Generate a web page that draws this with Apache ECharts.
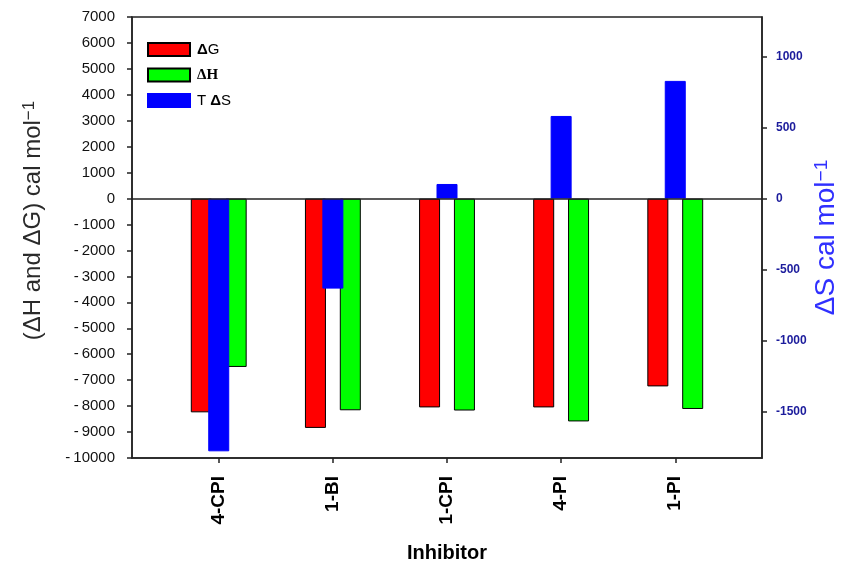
<!DOCTYPE html>
<html>
<head>
<meta charset="utf-8">
<script src="https://cdn.jsdelivr.net/npm/echarts@6/dist/echarts.min.js"></script>
<style>
  html, body { margin: 0; padding: 0; background: #fff; }
  #chart { width: 844px; height: 564px; }
</style>
</head>
<body>
<div id="chart"></div>
<script>
// Thermodynamic parameters of binding for each inhibitor
const inhibitors = ['4-CPI', '1-BI', '1-CPI', '4-PI', '1-PI'];
const deltaG = [-8240, -8840, -8050, -8050, -7240];   // cal/mol, left axis
const deltaH = [-6490, -8160, -8170, -8590, -8110];   // cal/mol, left axis
const tDeltaS = [-1780, -634, 103, 582, 829];         // right axis
const rightTicks = [-1500, -1000, -500, 0, 500, 1000];
const xPositions = inhibitors.map((_, i) => i);

const FONT = '"Liberation Sans", Arial, sans-serif';

const chart = echarts.init(document.getElementById('chart'), null, { renderer: 'canvas' });

const pairs = arr => arr.map((v, i) => [i, v]);

const legendRich = {
  d: { fontFamily: FONT, fontWeight: 'bold', fontSize: 15, color: '#000' },
  h: { fontFamily: '"Liberation Serif", "Times New Roman", serif', fontWeight: 'bold', fontSize: 15, color: '#000' },
  n: { fontFamily: FONT, fontSize: 15, color: '#000' }
};
const legendText = {
  'ΔG': '{d|Δ}{n|G}',
  'ΔH': '{h|ΔH}',
  'TΔS': '{n|T }{d|Δ}{n|S}'
};

const option = {
  backgroundColor: '#fff',
  animation: false,
  grid: {
    left: 132, right: 82, top: 17, bottom: 106,
    show: true, borderColor: '#222', borderWidth: 1.5,
    containLabel: false, outerBoundsMode: 'none'
  },
  legend: {
    orient: 'vertical',
    left: 147, top: 42, padding: 0,
    icon: 'rect',
    itemWidth: 42, itemHeight: 13, itemGap: 10.5,
    data: ['ΔG', 'ΔH', 'TΔS'],
    formatter: name => legendText[name],
    textStyle: { lineHeight: 13, padding: [0, 0, 0, 2], rich: legendRich }
  },
  xAxis: {
    type: 'value',
    min: -0.76, max: 4.76,
    splitLine: { show: false },
    axisLine: { onZero: false, lineStyle: { color: '#222', width: 1.5 } },
    axisTick: { customValues: xPositions, length: 5, lineStyle: { color: '#222', width: 1.5 } },
    axisLabel: {
      customValues: xPositions,
      formatter: v => inhibitors[Math.round(v)],
      rotate: 90, margin: 18,
      fontFamily: FONT, fontWeight: 'bold', fontSize: 19, color: '#000'
    },
    name: 'Inhibitor',
    nameLocation: 'middle', nameGap: 85,
    nameTextStyle: { fontFamily: FONT, fontWeight: 'bold', fontSize: 20, color: '#000' }
  },
  yAxis: [
    {
      type: 'value',
      position: 'left',
      min: -10000, max: 7000, interval: 1000,
      splitLine: { show: false },
      axisLine: { show: true, onZero: false, lineStyle: { color: '#222', width: 1.5 } },
      axisTick: { show: true, length: 5, lineStyle: { color: '#222', width: 1.5 } },
      axisLabel: {
        margin: 17,
        fontFamily: FONT, fontSize: 15, color: '#111',
        formatter: v => (v < 0 ? '-\u2009' + Math.abs(v) : String(v))
      },
      name: '(ΔH and ΔG) cal mol{sup|−1}',
      nameLocation: 'middle', nameGap: 87, nameMoveOverlap: false,
      nameTextStyle: {
        fontFamily: FONT, fontSize: 24, color: '#2a2a2a',
        padding: [0, 0, 0, 34],
        rich: { sup: { fontFamily: FONT, fontSize: 17, color: '#2a2a2a', verticalAlign: 'top', lineHeight: 17 } }
      }
    },
    {
      type: 'value',
      position: 'right',
      min: -1827, max: 1279,
      splitLine: { show: false },
      axisLine: { show: true, onZero: false, lineStyle: { color: '#222', width: 1.5 } },
      axisTick: { show: true, length: 5, customValues: rightTicks, lineStyle: { color: '#222', width: 1.5 } },
      axisLabel: {
        customValues: rightTicks,
        margin: 14,
        formatter: v => String(v),
        fontFamily: FONT, fontWeight: 'bold', fontSize: 12, color: '#1c1c9c'
      },
      name: 'ΔS cal mol{sup|−1}',
      nameLocation: 'middle', nameGap: 50, nameMoveOverlap: false,
      nameTextStyle: {
        fontFamily: FONT, fontSize: 28, color: '#3030ff',
        rich: { sup: { fontFamily: FONT, fontSize: 19, color: '#3030ff', verticalAlign: 'top', lineHeight: 19 } }
      }
    }
  ],
  series: [
    {
      name: 'ΔG', type: 'bar', yAxisIndex: 0,
      data: pairs(deltaG),
      barWidth: 21, barGap: '-17%',
      itemStyle: { color: '#ff0000', borderColor: '#000', borderWidth: 1 },
      markLine: {
        silent: true, symbol: 'none',
        label: { show: false },
        lineStyle: { color: '#222', type: 'solid', width: 1.5 },
        data: [{ yAxis: 0 }]
      },
      z: 2
    },
    {
      name: 'TΔS', type: 'bar', yAxisIndex: 1,
      data: pairs(tDeltaS),
      barWidth: 21, barGap: '-17%',
      itemStyle: { color: '#0000ff', borderColor: '#0000ff', borderWidth: 1 },
      z: 4
    },
    {
      name: 'ΔH', type: 'bar', yAxisIndex: 0,
      data: pairs(deltaH),
      barWidth: 21, barGap: '-17%',
      itemStyle: { color: '#00ff00', borderColor: '#000', borderWidth: 1 },
      z: 3
    }
  ]
};

chart.setOption(option);
</script>
</body>
</html>
